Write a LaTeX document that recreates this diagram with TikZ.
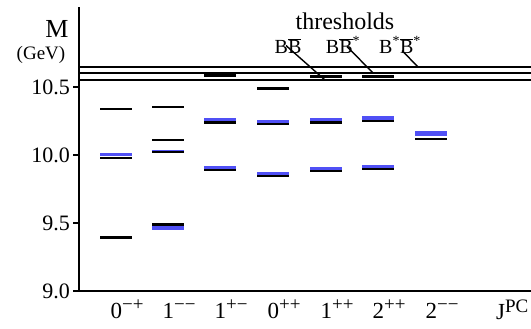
\documentclass[tikz,border=0pt]{standalone}
\usepackage{fontspec}
\setmainfont{Liberation Serif}
\usepackage{xcolor}
\usepackage{tikz}
\definecolor{lattice}{RGB}{80,80,245}
\newcommand{\parity}[1]{\raisebox{7.5pt}{\fontsize{19}{19}\selectfont #1}}
\tikzset{
	axis/.style={line width=2pt},
	thr/.style={line width=1.4pt},
	lvl/.style={line width=2.4pt},
	band/.style={fill=lattice},
	lbl/.style={font=\fontsize{22}{24}\selectfont,inner sep=0pt},
	small/.style={font=\fontsize{19}{21}\selectfont,inner sep=0pt},
	blbl/.style={font=\fontsize{20}{22}\selectfont,inner sep=0pt,anchor=base},
	jlbl/.style={font=\fontsize{23}{25}\selectfont,inner sep=0pt,anchor=base west},
}

\begin{document}
\begin{tikzpicture}[x=1pt,y=136pt]
	\useasboundingbox (0,8.7206) rectangle (531,11.1397);
	\draw[axis] (79,11.088) -- (79,9) -- (531,9);
	\draw[axis] (73,9) -- (79,9) (73,9.5) -- (79,9.5) (73,10) -- (79,10) (73,10.5) -- (79,10.5);
	\node[lbl,anchor=east] (m90) at (70,9) {9.0};
	\node[lbl,anchor=east] (m95) at (70,9.5) {9.5};
	\node[lbl,anchor=east] (m100) at (70,10) {10.0};
	\node[lbl,anchor=east] (m105) at (70,10.5) {10.5};
	\node[lbl,font=\fontsize{26}{28}\selectfont] (mass) at (57,10.926) {M};
	\node[small] (unit) at (41,10.735) {(GeV)};

	\draw[thr] (79,10.647) -- (531,10.647) (79,10.603) -- (531,10.603) (79,10.551) -- (531,10.551);
	\coordinate (t1) at (325,10.551);
	\coordinate (t2) at (373,10.603);
	\coordinate (t3) at (418,10.647);
	\node[lbl,font=\fontsize{24}{26}\selectfont,anchor=base] (thres) at (345,10.919) {thresholds};
	\node[blbl] (bb) at (288,10.748) {B$\overline{\mbox{B}}$};
	\node[blbl] (bbs) at (343,10.748) {B$\overline{\mbox{B}}$\textsuperscript{*}};
	\node[blbl] (bsbs) at (400,10.748) {B\textsuperscript{*}$\overline{\mbox{B}}$\textsuperscript{*}};
	\draw[thr] ([xshift=-2pt,yshift=8pt]bb.south) -- (t1);
	\draw[thr] ([xshift=4pt,yshift=7pt]bbs.south) -- (t2);
	\draw[thr] ([xshift=2pt,yshift=3pt]bsbs.south) -- (t3);

	\fill[band] (100,9.385) rectangle (132,9.402);
	\draw[lvl] (100,9.392) -- (132,9.392);
	\fill[band] (100,9.989) rectangle (132,10.015);
	\draw[lvl] (100,9.98) -- (132,9.98);
	\draw[lvl] (100,10.336) -- (132,10.336);

	\fill[band] (152,9.447) rectangle (184,9.49);
	\draw[lvl] (152,9.49) -- (184,9.49);
	\fill[band] (152,10.02) rectangle (184,10.037);
	\draw[lvl] (152,10.02) -- (184,10.02);
	\draw[lvl] (152,10.11) -- (184,10.11);
	\fill[band] (152,10.345) rectangle (184,10.362);
	\draw[lvl] (152,10.351) -- (184,10.351);

	\fill[band] (204,9.895) rectangle (236,9.917);
	\draw[lvl] (204,9.89) -- (236,9.89);
	\fill[band] (204,10.245) rectangle (236,10.27);
	\draw[lvl] (204,10.24) -- (236,10.24);
	\draw[lvl,line width=3pt] (204,10.588) -- (236,10.588);

	\fill[band] (257,9.851) rectangle (289,9.874);
	\draw[lvl] (257,9.846) -- (289,9.846);
	\fill[band] (257,10.231) rectangle (289,10.257);
	\draw[lvl] (257,10.226) -- (289,10.226);
	\draw[lvl] (257,10.49) -- (289,10.49);

	\fill[band] (310,9.888) rectangle (342,9.912);
	\draw[lvl] (310,9.882) -- (342,9.882);
	\fill[band] (310,10.245) rectangle (342,10.272);
	\draw[lvl] (310,10.24) -- (342,10.24);
	\draw[lvl,line width=3pt] (310,10.574) -- (342,10.574);

	\fill[band] (362,9.905) rectangle (394,9.928);
	\draw[lvl] (362,9.899) -- (394,9.899);
	\fill[band] (362,10.256) rectangle (394,10.283);
	\draw[lvl] (362,10.25) -- (394,10.25);
	\draw[lvl,line width=3pt] (362,10.574) -- (394,10.574);

	\fill[band] (415,10.142) rectangle (447,10.176);
	\draw[lvl] (415,10.118) -- (447,10.118);

	\node[jlbl] (j0mp) at (110.5,8.7985) {0\parity{−+}};
	\node[jlbl] (j1mm) at (162.5,8.7985) {1\parity{−−}};
	\node[jlbl] (j1pm) at (214.5,8.7985) {1\parity{+−}};
	\node[jlbl] (j0pp) at (267.5,8.7985) {0\parity{++}};
	\node[jlbl] (j1pp) at (320.5,8.7985) {1\parity{++}};
	\node[jlbl] (j2pp) at (372.5,8.7985) {2\parity{++}};
	\node[jlbl] (j2mm) at (425.5,8.7985) {2\parity{−−}};
	\node[jlbl] (jpc) at (496,8.787) {J\parity{PC}};
\end{tikzpicture}
\end{document}
